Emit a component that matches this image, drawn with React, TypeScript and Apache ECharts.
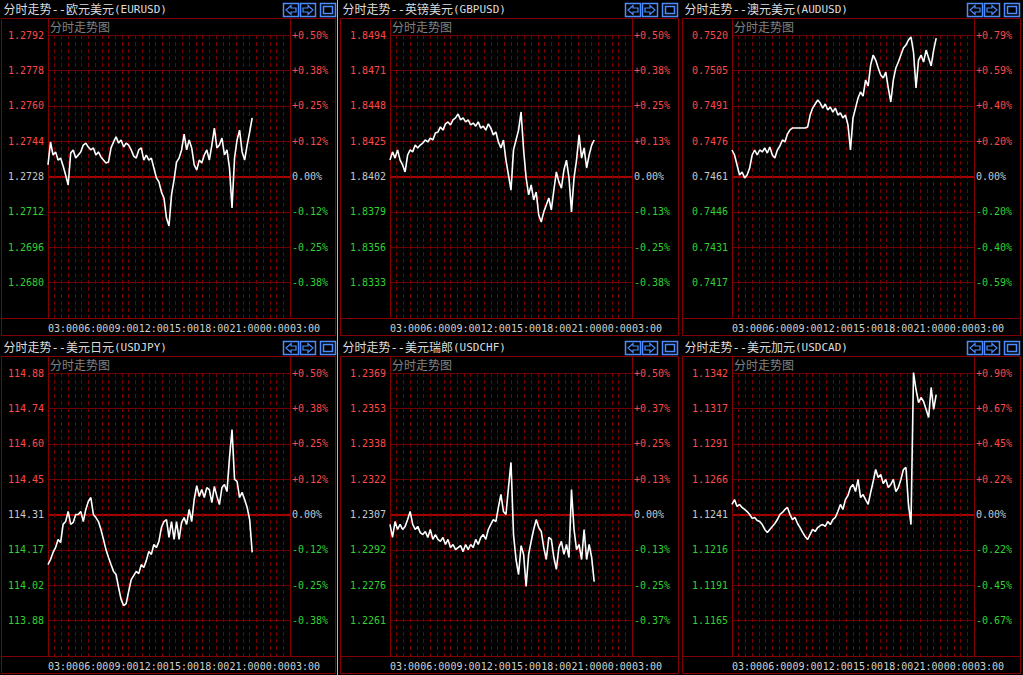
import React, { useEffect, useRef } from 'react';
import * as echarts from 'echarts';

// ---------- data ----------
const SAMPLE_MINUTES = 15; // one sample every 15 minutes, starting 03:00
const DAY_MINUTES = 1440;
const LABEL_MINUTES = 180;
const GRID_MINUTES = 40;

const timeLabels = ['03:00', '06:00', '09:00', '12:00', '15:00', '18:00', '21:00', '00:00', '03:00'];

// percent change vs. previous close
const eurusdPct = [
  0.041, 0.122, 0.076, 0.087, 0.058, 0.065, 0.037, 0.005, -0.030, 0.083,
  0.094, 0.065, 0.076, 0.087, 0.111, 0.118, 0.104, 0.094, 0.101, 0.076,
  0.087, 0.069, 0.058, 0.048, 0.051, 0.101, 0.122, 0.140, 0.118, 0.129,
  0.104, 0.118, 0.111, 0.094, 0.072, 0.065, 0.094, 0.101, 0.058, 0.076,
  0.058, 0.065, 0.030, -0.005, -0.019, -0.055, -0.076, -0.147, -0.175, -0.065,
  -0.012, 0.051, 0.065, 0.094, 0.150, 0.094, 0.129, 0.101, 0.041, 0.023,
  0.058, 0.048, 0.076, 0.094, 0.058, 0.111, 0.171, 0.101, 0.111, 0.136,
  0.076, 0.094, 0.030, -0.111, 0.065, 0.129, 0.164, 0.087, 0.058, 0.111,
  0.157, 0.207,
];
const gbpusdPct = [
  0.058, 0.087, 0.065, 0.094, 0.058, 0.041, 0.016, 0.076, 0.094, 0.087,
  0.111, 0.101, 0.111, 0.118, 0.129, 0.122, 0.136, 0.129, 0.154, 0.157,
  0.175, 0.164, 0.186, 0.193, 0.182, 0.200, 0.207, 0.221, 0.200, 0.207,
  0.193, 0.200, 0.182, 0.189, 0.178, 0.193, 0.171, 0.178, 0.164, 0.186,
  0.171, 0.147, 0.157, 0.122, 0.101, 0.129, 0.058, 0.005, -0.048, 0.094,
  0.129, 0.164, 0.228, 0.094, -0.005, -0.065, -0.030, -0.083, -0.055, -0.136,
  -0.161, -0.125, -0.101, -0.076, -0.118, -0.048, 0.016, -0.019, -0.041, 0.023,
  0.058, -0.005, -0.125, -0.005, 0.058, 0.147, 0.065, 0.101, 0.030, 0.076,
  0.111, 0.129,
];
const audusdPct = [
  0.148, 0.120, 0.064, 0.008, 0.025, -0.008, 0.008, 0.047, 0.120, 0.148,
  0.120, 0.148, 0.137, 0.159, 0.131, 0.165, 0.120, 0.103, 0.148, 0.170,
  0.204, 0.193, 0.237, 0.260, 0.271, 0.271, 0.271, 0.271, 0.271, 0.271,
  0.276, 0.343, 0.382, 0.405, 0.427, 0.410, 0.382, 0.405, 0.371, 0.388,
  0.360, 0.382, 0.343, 0.355, 0.327, 0.343, 0.288, 0.148, 0.327, 0.382,
  0.438, 0.472, 0.449, 0.539, 0.505, 0.622, 0.678, 0.650, 0.606, 0.567,
  0.550, 0.583, 0.494, 0.416, 0.539, 0.606, 0.639, 0.678, 0.717, 0.734,
  0.762, 0.779, 0.695, 0.494, 0.650, 0.678, 0.639, 0.706, 0.662, 0.617,
  0.706, 0.773,
];
const usdjpyPct = [
  -0.177, -0.159, -0.134, -0.117, -0.088, -0.099, -0.035, -0.025, 0.011, -0.035,
  -0.028, 0.000, 0.000, 0.011, -0.025, 0.018, 0.046, 0.060, 0.000, -0.011,
  -0.025, -0.053, -0.088, -0.124, -0.152, -0.177, -0.201, -0.212, -0.258, -0.300,
  -0.322, -0.315, -0.272, -0.230, -0.216, -0.201, -0.209, -0.177, -0.187, -0.163,
  -0.131, -0.141, -0.106, -0.117, -0.095, -0.046, -0.025, -0.018, -0.081, -0.025,
  -0.088, -0.025, -0.088, -0.028, -0.011, -0.035, 0.018, -0.025, 0.053, 0.102,
  0.064, 0.088, 0.060, 0.095, 0.088, 0.042, 0.099, 0.064, 0.035, 0.095,
  0.106, 0.081, 0.201, 0.300, 0.124, 0.117, 0.060, 0.078, 0.053, 0.025,
  -0.018, -0.134,
];
const usdchfPct = [
  -0.035, -0.081, -0.025, -0.053, -0.035, -0.053, -0.042, -0.018, 0.011, -0.035,
  -0.053, -0.042, -0.064, -0.071, -0.060, -0.081, -0.053, -0.088, -0.071, -0.088,
  -0.095, -0.081, -0.106, -0.088, -0.117, -0.106, -0.124, -0.117, -0.110, -0.131,
  -0.106, -0.124, -0.106, -0.117, -0.088, -0.106, -0.081, -0.071, -0.088, -0.053,
  -0.035, -0.018, -0.025, 0.025, 0.071, 0.011, 0.000, 0.095, 0.184, -0.071,
  -0.159, -0.212, -0.110, -0.141, -0.254, -0.141, -0.095, -0.053, -0.018, -0.046,
  -0.060, -0.117, -0.159, -0.081, -0.088, -0.152, -0.194, -0.117, -0.095, -0.141,
  -0.106, -0.152, 0.088, -0.053, -0.124, -0.106, -0.159, -0.053, -0.159, -0.106,
  -0.152, -0.237,
];
const usdcadPct = [
  0.064, 0.095, 0.051, 0.064, 0.045, 0.032, 0.019, 0.000, -0.025, -0.019,
  -0.038, -0.045, -0.064, -0.095, -0.114, -0.095, -0.076, -0.057, -0.032, 0.000,
  0.013, 0.032, 0.045, 0.000, -0.032, -0.019, -0.057, -0.083, -0.114, -0.140,
  -0.159, -0.127, -0.095, -0.108, -0.083, -0.070, -0.064, -0.076, -0.045, -0.064,
  -0.032, -0.019, 0.019, 0.064, 0.032, 0.095, 0.121, 0.172, 0.191, 0.146,
  0.223, 0.108, 0.127, 0.095, 0.064, 0.140, 0.210, 0.286, 0.235, 0.254,
  0.197, 0.223, 0.172, 0.191, 0.223, 0.146, 0.172, 0.223, 0.286, 0.299,
  0.064, -0.064, 0.903, 0.795, 0.712, 0.744, 0.719, 0.668, 0.617, 0.808,
  0.668, 0.763,
];

// tick labels (top to bottom)
const eurusdPriceTicks = ['1.2792', '1.2778', '1.2760', '1.2744', '1.2728', '1.2712', '1.2696', '1.2680'];
const eurusdPctTicks = ['+0.50%', '+0.38%', '+0.25%', '+0.12%', '0.00%', '-0.12%', '-0.25%', '-0.38%'];
const gbpusdPriceTicks = ['1.8494', '1.8471', '1.8448', '1.8425', '1.8402', '1.8379', '1.8356', '1.8333'];
const gbpusdPctTicks = ['+0.50%', '+0.38%', '+0.25%', '+0.13%', '0.00%', '-0.13%', '-0.25%', '-0.38%'];
const audusdPriceTicks = ['0.7520', '0.7505', '0.7491', '0.7476', '0.7461', '0.7446', '0.7431', '0.7417'];
const audusdPctTicks = ['+0.79%', '+0.59%', '+0.40%', '+0.20%', '0.00%', '-0.20%', '-0.40%', '-0.59%'];
const usdjpyPriceTicks = ['114.88', '114.74', '114.60', '114.45', '114.31', '114.17', '114.02', '113.88'];
const usdjpyPctTicks = ['+0.50%', '+0.38%', '+0.25%', '+0.12%', '0.00%', '-0.12%', '-0.25%', '-0.38%'];
const usdchfPriceTicks = ['1.2369', '1.2353', '1.2338', '1.2322', '1.2307', '1.2292', '1.2276', '1.2261'];
const usdchfPctTicks = ['+0.50%', '+0.37%', '+0.25%', '+0.13%', '0.00%', '-0.13%', '-0.25%', '-0.37%'];
const usdcadPriceTicks = ['1.1342', '1.1317', '1.1291', '1.1266', '1.1241', '1.1216', '1.1191', '1.1165'];
const usdcadPctTicks = ['+0.90%', '+0.67%', '+0.45%', '+0.22%', '0.00%', '-0.22%', '-0.45%', '-0.67%'];

// percent per grid row
const eurusdStep = 0.125;
const gbpusdStep = 0.125;
const audusdStep = 0.1975;
const usdjpyStep = 0.125;
const usdchfStep = 0.125;
const usdcadStep = 0.225;

const panels = [
  { name: '分时走势--欧元美元', code: '(EURUSD)', values: eurusdPct, step: eurusdStep, priceTicks: eurusdPriceTicks, pctTicks: eurusdPctTicks },
  { name: '分时走势--英镑美元', code: '(GBPUSD)', values: gbpusdPct, step: gbpusdStep, priceTicks: gbpusdPriceTicks, pctTicks: gbpusdPctTicks },
  { name: '分时走势--澳元美元', code: '(AUDUSD)', values: audusdPct, step: audusdStep, priceTicks: audusdPriceTicks, pctTicks: audusdPctTicks },
  { name: '分时走势--美元日元', code: '(USDJPY)', values: usdjpyPct, step: usdjpyStep, priceTicks: usdjpyPriceTicks, pctTicks: usdjpyPctTicks },
  { name: '分时走势--美元瑞郎', code: '(USDCHF)', values: usdchfPct, step: usdchfStep, priceTicks: usdchfPriceTicks, pctTicks: usdchfPctTicks },
  { name: '分时走势--美元加元', code: '(USDCAD)', values: usdcadPct, step: usdcadStep, priceTicks: usdcadPriceTicks, pctTicks: usdcadPctTicks },
];

// ---------- layout & style ----------
const W = 1023;
const H = 675;
const COL_X = [0, 342, 684];
const ROW_Y = [0, 338];
const FRAME_L = [1.5, 340.5, 682.5];
const FRAME_R = [335.5, 678.5, 1020.5];
const PLOT_DX = 48;
const PLOT_W = 242;
const PLOT_TOP = 35;
const PLOT_H = 283;

const MONO = '"DejaVu Sans Mono", "Liberation Mono", monospace';
const CJK = '"Noto Sans CJK SC", sans-serif';
const GRID_COLOR = '#6e0000';
const DASH_COLOR = '#760000';
const FRAME_COLOR = '#840000';
const ZERO_COLOR = '#a80000';
const UP = '#ff4848';
const DOWN = '#33d033';
const FLAT = '#c8c8c8';
const TIME_COLOR = '#d0d0d0';
const BTN = '#4d8cff';

function buildOption() {
  const grid: any[] = [];
  const xAxis: any[] = [];
  const yAxis: any[] = [];
  const series: any[] = [];
  const graphic: any[] = [];

  panels.forEach((p, i) => {
    const c = i % 3;
    const r = Math.floor(i / 3);
    const ox = COL_X[c];
    const oy = ROW_Y[r];
    const fl = FRAME_L[c];
    const fr = FRAME_R[c];

    grid.push({ left: ox + PLOT_DX, top: oy + PLOT_TOP, width: PLOT_W, height: PLOT_H, show: false });

    xAxis.push({
      type: 'value', gridIndex: i, min: 0, max: DAY_MINUTES, interval: LABEL_MINUTES, position: 'bottom',
      axisLine: { show: false }, axisTick: { show: false }, splitLine: { show: false },
      axisLabel: {
        formatter: (v: number) => timeLabels[Math.round(v / LABEL_MINUTES)] ?? '',
        align: 'left', color: TIME_COLOR, fontFamily: MONO, fontSize: 10, margin: 5,
      },
    });
    xAxis.push({
      type: 'value', gridIndex: i, min: 0, max: DAY_MINUTES, interval: GRID_MINUTES, position: 'top',
      axisLine: { show: false }, axisTick: { show: false }, axisLabel: { show: false },
      splitLine: { show: true, lineStyle: { color: DASH_COLOR, type: [4, 3], width: 1 } },
    });

    const step = p.step;
    const idx = (v: any) => Math.round(4 - parseFloat(v) / step);
    const col = (v: any) => {
      const n = parseFloat(v);
      return n > step / 10 ? UP : n < -step / 10 ? DOWN : FLAT;
    };
    yAxis.push({
      type: 'value', gridIndex: i, min: -4 * step, max: 4 * step, interval: step, position: 'left',
      axisLine: { show: false }, axisTick: { show: false },
      axisLabel: { formatter: (v: any) => p.priceTicks[idx(v)] ?? '', color: col, fontFamily: MONO, fontSize: 10, margin: 4 },
      splitLine: { show: true, lineStyle: { color: GRID_COLOR, width: 1 } },
    });
    const T = 'rgba(0,0,0,0)';
    yAxis.push({
      type: 'value', gridIndex: i, min: -4 * step, max: 4 * step, interval: step, position: 'right',
      axisLine: { show: false }, axisTick: { show: false },
      axisLabel: { formatter: (v: any) => p.pctTicks[idx(v)] ?? '', color: col, fontFamily: MONO, fontSize: 10, margin: 2 },
      splitLine: { show: true, lineStyle: { color: [T, T, T, T, ZERO_COLOR, T, T, T, T], width: 2 } },
    });

    series.push({
      type: 'line', xAxisIndex: 2 * i, yAxisIndex: 2 * i,
      data: p.values.map((v, k) => [k * SAMPLE_MINUTES, v]),
      symbol: 'none', showSymbol: false, silent: true, clip: false, z: 5,
      lineStyle: { color: '#ffffff', width: 1.6 },
    });

    // frames
    graphic.push({
      type: 'rect', silent: true, z: 1,
      shape: { x: fl, y: oy + 18.5, width: fr - fl, height: 317 },
      style: { fill: 'none', stroke: FRAME_COLOR, lineWidth: 1 },
    });
    graphic.push({
      type: 'line', silent: true, z: 1,
      shape: { x1: fl, y1: oy + 318.5, x2: fr, y2: oy + 318.5 },
      style: { stroke: FRAME_COLOR, lineWidth: 1 },
    });
    [ox + PLOT_DX + 0.5, ox + PLOT_DX + PLOT_W + 0.5].forEach((x) => {
      graphic.push({
        type: 'line', silent: true, z: 1,
        shape: { x1: x, y1: oy + 18.5, x2: x, y2: oy + 318.5 },
        style: { stroke: FRAME_COLOR, lineWidth: 1 },
      });
    });

    // title
    graphic.push({
      type: 'text', silent: true, z: 3, x: fl + 2, y: oy + 9.5,
      style: {
        text: `{a|${p.name}}{b|${p.code}}`,
        verticalAlign: 'middle',
        rich: {
          a: { fill: '#dcdcdc', fontSize: 12, fontFamily: `"DejaVu Sans Mono", ${CJK}` },
          b: { fill: '#dcdcdc', fontSize: 11, fontFamily: MONO },
        },
      },
    });
    graphic.push({
      type: 'text', silent: true, z: 3, x: ox + PLOT_DX + 2, y: oy + 26,
      style: { text: '分时走势图', fill: '#808080', fontSize: 12, fontFamily: CJK, verticalAlign: 'middle' },
    });

    // buttons
    const by = oy + 3.5;
    const bh = 13;
    const cy = by + bh / 2;
    const b1 = ox + 283.5;
    const b2 = ox + 300.5;
    const b3 = ox + 320.5;
    [b1, b2, b3].forEach((bx) => {
      graphic.push({
        type: 'rect', silent: true, z: 3,
        shape: { x: bx, y: by, width: 15, height: bh },
        style: { fill: '#000', stroke: BTN, lineWidth: 1.5 },
      });
    });
    graphic.push({
      type: 'polygon', silent: true, z: 4,
      shape: { points: [[b1 + 2.5, cy], [b1 + 7.5, cy - 4.5], [b1 + 7.5, cy - 2], [b1 + 12.5, cy - 2], [b1 + 12.5, cy + 2], [b1 + 7.5, cy + 2], [b1 + 7.5, cy + 4.5]] },
      style: { fill: 'none', stroke: BTN, lineWidth: 1.2 },
    });
    graphic.push({
      type: 'polygon', silent: true, z: 4,
      shape: { points: [[b2 + 12.5, cy], [b2 + 7.5, cy - 4.5], [b2 + 7.5, cy - 2], [b2 + 2.5, cy - 2], [b2 + 2.5, cy + 2], [b2 + 7.5, cy + 2], [b2 + 7.5, cy + 4.5]] },
      style: { fill: 'none', stroke: BTN, lineWidth: 1.2 },
    });
    graphic.push({
      type: 'rect', silent: true, z: 4,
      shape: { x: b3 + 3, y: by + 3, width: 9, height: 7 },
      style: { fill: 'none', stroke: BTN, lineWidth: 1.5 },
    });
  });

  // separator between first and second column
  graphic.push({
    type: 'line', silent: true, z: 2,
    shape: { x1: 337.5, y1: 0, x2: 337.5, y2: H },
    style: { stroke: '#b8b8b8', lineWidth: 1 },
  });

  return {
    animation: false,
    backgroundColor: '#000000',
    grid,
    xAxis,
    yAxis,
    series,
    graphic: { elements: graphic },
  };
}

export default function App() {
  const ref = useRef<HTMLDivElement>(null);
  useEffect(() => {
    const chart = echarts.init(ref.current!, null, { renderer: 'svg', width: W, height: H });
    chart.setOption(buildOption() as any);
    return () => chart.dispose();
  }, []);
  return (
    <div
      ref={ref}
      style={{ position: 'fixed', left: 0, top: 0, width: W, height: H, background: '#000' }}
    />
  );
}
